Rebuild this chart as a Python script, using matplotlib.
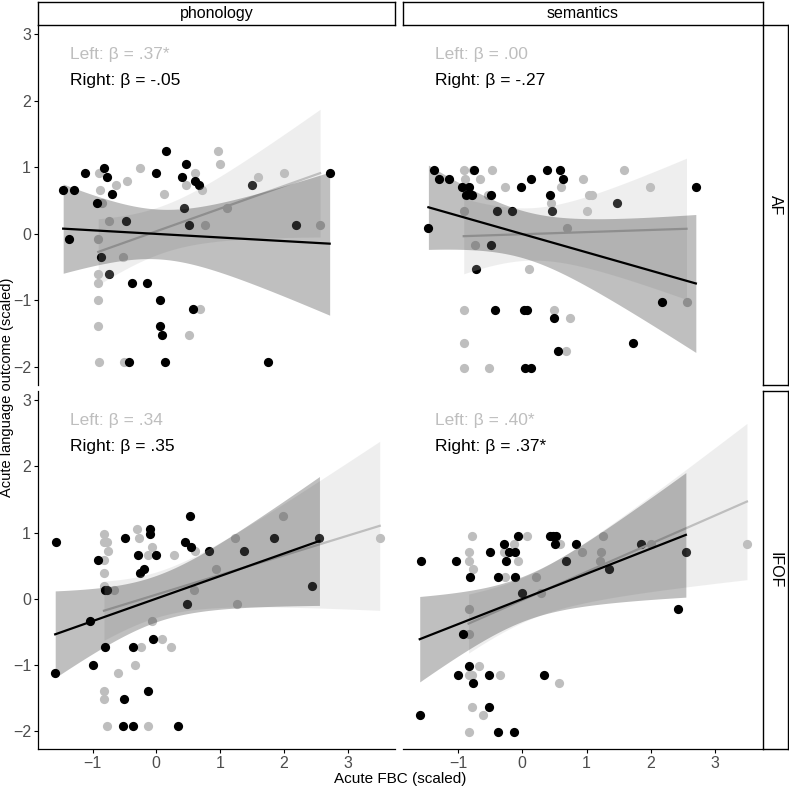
import numpy as np
import matplotlib
matplotlib.use("Agg")
import matplotlib.pyplot as plt

plt.rcParams["font.family"] = ["Liberation Sans", "DejaVu Sans"]

GREY = "#BEBEBE"
TICK_TXT = "#4D4D4D"

# ---- data (Acute FBC scaled, outcome scaled) ----
# AF / phonology
af_phon_left_x = [-0.90, -0.885, -0.85, -0.91, -0.91, -0.91, -0.91, -0.91, -0.90, -0.74, -0.635, -0.46, -0.52, -0.51,
                  -0.26, 0.115, 0.46, 0.615, 0.71, 0.69, 0.51, 0.765, 0.97, 1.005, 1.11, 1.60, 2.005, 2.57]
af_phon_left_y = [0.92, 0.66, 0.46, -0.07, -0.60, -0.73, -1.00, -1.39, -1.92, 0.20, 0.73, 0.79, -0.34, -1.92,
                  0.99, 0.60, 0.73, 0.92, 0.66, -1.13, -1.52, 0.13, 1.25, 1.05, 0.39, 0.86, 0.92, 0.13]
af_phon_right_x = [-1.46, -1.29, -1.37, -1.125, -0.93, -0.82, -0.77, -0.70, -0.86, -0.74, -0.47, -0.375, -0.15, -0.42,
                   -0.01, 0.15, 0.06, 0.06, 0.09, 0.135, 0.40, 0.47, 0.44, 0.52, 0.57, 0.61, 0.67, 1.50, 1.745, 2.19, 2.72]
af_phon_right_y = [0.66, 0.66, -0.07, 0.92, 0.46, 0.99, 0.86, 0.60, -0.34, -0.60, 0.20, -0.73, -0.73, -1.92,
                   0.92, 1.25, -1.00, -1.39, -1.52, -1.92, 0.86, 1.05, 0.39, 0.13, -1.13, 0.79, 0.73, 0.73, -1.92, 0.13, 0.92]

# AF / semantics (last three grey points sit under black ones)
af_sem_left_x = [-0.91, -0.89, -0.91, -0.91, -0.91, -0.91, -0.74, -0.65, -0.54, -0.47, -0.51, -0.275, 0.10, 0.45,
                 0.60, 0.49, 0.75, 0.675, 0.70, 0.95, 1.00, 1.04, 1.09, 1.59, 1.98, 2.555, -0.88, -0.80, -0.76]
af_sem_left_y = [0.96, 0.83, 0.34, -1.15, -1.64, -2.02, -0.16, 0.83, 0.58, 0.96, -2.02, 0.70, -0.53, 0.46,
                 0.70, -1.15, -1.27, -1.76, 0.09, 0.83, 0.34, 0.58, 0.58, 0.96, 0.70, -1.02, 0.71, 0.58, 0.96]
af_sem_right_x = [-1.46, -1.38, -1.30, -1.14, -0.945, -0.835, -0.87, -0.78, -0.75, -0.49, -0.39, -0.155, -0.49, -0.72,
                  -0.43, 0.03, 0.08, -0.02, 0.135, 0.39, 0.59, 0.64, 0.425, 0.46, 0.50, 0.555, 0.04, 0.13,
                  1.475, 1.73, 2.175, 2.70]
af_sem_right_y = [0.09, 0.96, 0.83, 0.83, 0.71, 0.71, 0.58, 0.58, 0.96, 0.58, 0.34, 0.34, -0.16, -0.53,
                  -1.15, -1.15, -1.15, 0.70, 0.83, 0.96, 0.96, 0.83, 0.58, 0.34, -1.27, -1.76, -2.02, -2.02,
                  0.46, -1.64, -1.02, 0.70]

# IFOF / phonology
ifof_phon_left_x = [-0.82, -0.82, -0.77, -0.755, -0.82, -0.82, -0.82, -0.66, -0.82, -0.82, -0.775, -0.60, -0.34, -0.30,
                    -0.275, -0.24, -0.125, -0.07, -0.06, -0.125, 0.085, 0.225, 0.285, 0.59, 0.605, 0.93, 1.24, 1.265,
                    1.995, 3.505]
ifof_phon_left_y = [0.985, 0.855, 0.855, 0.72, 0.59, 0.39, 0.19, 0.13, -1.39, -1.52, -1.915, -1.125, -0.995, 1.055,
                    0.92, -0.73, 0.655, 0.79, -0.335, -1.915, -0.605, -0.73, 0.655, 0.13, 0.72, 0.455, 0.92, -0.075,
                    1.25, 0.92]
ifof_phon_right_x = [-1.565, -1.585, -1.035, -1.0, -0.915, -0.81, -0.81, -0.765, -0.49, -0.52, -0.50, -0.37, -0.36,
                     -0.28, -0.25, -0.19, -0.10, -0.10, -0.125, -0.05, -0.005, 0.345, 0.45, 0.475, 0.525, 0.54, 0.835,
                     1.37, 1.845, 2.44, 2.56]
ifof_phon_right_y = [0.855, -1.125, -0.335, -0.995, 0.59, -0.73, 0.13, 0.13, 0.915, -1.915, -1.52, -1.915, -0.73,
                     0.655, 0.39, 0.455, 1.055, 0.985, -1.39, -0.605, 0.655, -1.915, 0.855, -0.075, 1.25, 0.79, 0.72,
                     0.72, 0.92, 0.19, 0.92]

# IFOF / semantics
ifof_sem_left_x = [-0.785, -0.83, -0.835, -0.77, -0.835, -0.83, -0.835, -0.785, -0.675, -0.775, -0.61, -0.835, -0.35,
                   -0.29, -0.275, -0.125, -0.07, 0.08, 0.215, 0.285, 0.58, 0.575, 0.925, 1.21, 1.23, 1.26, 1.995, 3.495]
ifof_sem_left_y = [0.945, 0.705, 0.575, 0.455, -0.16, -0.535, -1.15, -1.15, -1.02, -1.64, -1.76, -2.01, -1.15,
                   0.705, 0.33, 0.825, 0.575, 0.945, 0.33, 0.085, 0.825, -1.27, 0.705, 0.575, 0.705, 0.945, 0.825, 0.825]
ifof_sem_right_x = [-1.57, -1.595, -1.035, -1.0, -0.925, -0.83, -0.815, -0.76, -0.525, -0.515, -0.50, -0.38, -0.38,
                    -0.29, -0.26, -0.21, -0.115, -0.12, -0.135, -0.06, -0.01, 0.335, 0.43, 0.485, 0.525, 0.515, 0.685,
                    0.835, 1.35, 1.84, 2.43, 2.545]
ifof_sem_right_y = [0.575, -1.76, 0.575, -1.15, -0.535, -1.02, 0.33, -1.27, -1.64, -1.15, 0.705, 0.33, -2.01,
                    0.825, 0.575, 0.705, 0.705, 0.33, -2.01, 0.945, 0.085, -1.15, 0.945, 0.945, 0.945, 0.825, 0.575,
                    0.825, 0.455, 0.825, -0.16, 0.705]

col_labels = ["phonology", "semantics"]
row_labels = ["AF", "IFOF"]
beta_left = [[".37*", ".00"], [".34", ".40*"]]
beta_right = [["-.05", "-.27"], [".35", ".37*"]]

panels = [[(af_phon_left_x, af_phon_left_y, af_phon_right_x, af_phon_right_y),
           (af_sem_left_x, af_sem_left_y, af_sem_right_x, af_sem_right_y)],
          [(ifof_phon_left_x, ifof_phon_left_y, ifof_phon_right_x, ifof_phon_right_y),
           (ifof_sem_left_x, ifof_sem_left_y, ifof_sem_right_x, ifof_sem_right_y)]]

T975 = 2.045  # ~t(0.975, df~29)


def lm_band(x, y, n=100):
    x = np.asarray(x, float)
    y = np.asarray(y, float)
    xm = x.mean()
    sxx = ((x - xm) ** 2).sum()
    b1 = ((x - xm) * (y - y.mean())).sum() / sxx
    b0 = y.mean() - b1 * xm
    s2 = ((y - b0 - b1 * x) ** 2).sum() / (len(x) - 2)
    xs = np.linspace(x.min(), x.max(), n)
    fit = b0 + b1 * xs
    se = np.sqrt(s2 * (1 / len(x) + (xs - xm) ** 2 / sxx))
    return xs, fit, fit - T975 * se, fit + T975 * se


W = 789
fig = plt.figure(figsize=(7.89, 7.89), dpi=100)


def fx(px):
    return px / W


def fy(py):
    return 1 - py / W


col_x = [(38, 395), (403, 763)]
row_y = [(25, 385), (391, 749)]
XLIM = (-1.855, 3.745)
YLIM = (-2.27, 3.14)

for r in range(2):
    for c in range(2):
        x0, x1 = col_x[c]
        y0, y1 = row_y[r]
        ax = fig.add_axes([fx(x0), fy(y1), fx(x1 - x0), (y1 - y0) / W])
        lx, ly, rx, ry = panels[r][c]
        ax.scatter(lx, ly, s=44, color=GREY, linewidths=0, zorder=1)
        ax.scatter(rx, ry, s=44, color="black", linewidths=0, zorder=1)
        xs, fit, lo, hi = lm_band(lx, ly)
        ax.fill_between(xs, lo, hi, color=GREY, alpha=0.25, linewidth=0, zorder=2)
        ax.plot(xs, fit, color=GREY, lw=1.6, zorder=3)
        xs, fit, lo, hi = lm_band(rx, ry)
        ax.fill_between(xs, lo, hi, color="black", alpha=0.25, linewidth=0, zorder=4)
        ax.plot(xs, fit, color="black", lw=1.6, zorder=5)

        ax.text(-1.35, 2.70, f"Left: \u03b2 = {beta_left[r][c]}", color=GREY, fontsize=12.5,
                ha="left", va="center")
        ax.text(-1.35, 2.30, f"Right: \u03b2 = {beta_right[r][c]}", color="black", fontsize=12.5,
                ha="left", va="center")

        ax.set_xlim(*XLIM)
        ax.set_ylim(*YLIM)
        ax.set_xticks([-1, 0, 1, 2, 3])
        ax.set_yticks([-2, -1, 0, 1, 2, 3])
        ax.tick_params(length=3, width=0.8, color="black", labelcolor=TICK_TXT, labelsize=11.5, pad=2)
        for s in ["top", "right"]:
            ax.spines[s].set_visible(False)
        ax.spines["left"].set_visible(c == 0)
        ax.spines["bottom"].set_visible(r == 1)
        for s in ["left", "bottom"]:
            ax.spines[s].set_linewidth(0.9)
        if c != 0:
            ax.tick_params(axis="y", left=False, labelleft=False)
        if r != 1:
            ax.tick_params(axis="x", bottom=False, labelbottom=False)

# strips
for c in range(2):
    x0, x1 = col_x[c]
    sax = fig.add_axes([fx(x0), fy(25), fx(x1 - x0), 23 / W])
    sax.set_xticks([])
    sax.set_yticks([])
    for sp in sax.spines.values():
        sp.set_linewidth(1.0)
    sax.text(0.5, 0.5, col_labels[c], ha="center", va="center", fontsize=11.5, color="black",
             transform=sax.transAxes)
for r in range(2):
    y0, y1 = row_y[r]
    sax = fig.add_axes([fx(763), fy(y1), fx(25), (y1 - y0) / W])
    sax.set_xticks([])
    sax.set_yticks([])
    for sp in sax.spines.values():
        sp.set_linewidth(1.0)
    sax.text(0.5, 0.5, row_labels[r], ha="center", va="center", fontsize=11.5, color="black",
             rotation=-90, transform=sax.transAxes)

fig.text(fx(400), fy(779), "Acute FBC (scaled)", ha="center", va="center", fontsize=11)
fig.text(fx(7), fy(387), "Acute language outcome (scaled)", ha="center", va="center",
         fontsize=10.5, rotation=90)

fig.savefig("out.png", dpi=100)
